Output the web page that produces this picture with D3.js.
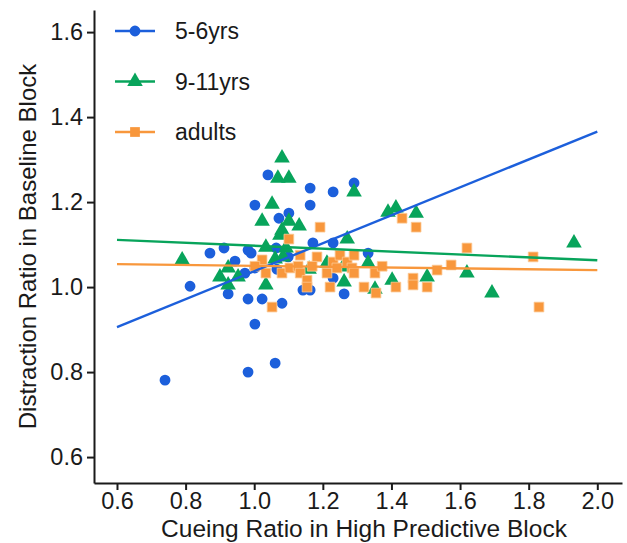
<!DOCTYPE html>
<html>
<head>
<meta charset="utf-8">
<script src="https://cdn.jsdelivr.net/npm/d3@7"></script>
<style>
  body { margin: 0; background: #fff; }
  text { font-family: "Liberation Sans", Arial, sans-serif; }
</style>
</head>
<body>
<div id="vis"></div>
<script>
// Data
const GROUPS = ["5-6yrs", "9-11yrs", "adults"];
const X_TICKS = [0.6, 0.8, 1.0, 1.2, 1.4, 1.6, 1.8, 2.0];
const Y_TICKS = [0.6, 0.8, 1.0, 1.2, 1.4, 1.6];

// 5-6yrs  [cueing ratio, distraction ratio]
const KIDS_5_6 = [
    [1.040, 1.264], [1.163, 1.233], [1.230, 1.224], [1.291, 1.245], [1.002, 1.193],
    [1.163, 1.193], [1.101, 1.174], [1.072, 1.162], [0.871, 1.080], [0.912, 1.092],
    [0.982, 1.087], [0.991, 1.080], [0.944, 1.061], [1.064, 1.092], [1.171, 1.104],
    [1.230, 1.104], [1.332, 1.080], [1.099, 1.071], [1.066, 1.042], [0.973, 1.033],
    [1.002, 1.045], [0.924, 0.984], [0.982, 0.972], [1.023, 0.972], [1.081, 0.962],
    [1.142, 0.993], [1.163, 0.993], [1.230, 1.021], [1.262, 0.984], [1.002, 0.913],
    [0.740, 0.781], [0.982, 0.800], [1.061, 0.821], [0.813, 1.002]
];

// 9-11yrs
const KIDS_9_11 = [
    [1.081, 1.304], [1.069, 1.256], [1.101, 1.256], [1.291, 1.224], [1.052, 1.195],
    [1.023, 1.155], [1.101, 1.155], [1.131, 1.144], [1.081, 1.134], [1.075, 1.122],
    [1.390, 1.176], [1.413, 1.186], [1.472, 1.174], [1.034, 1.094], [1.093, 1.092],
    [1.271, 1.113], [1.061, 1.066], [0.924, 1.045], [0.900, 1.024], [0.924, 1.005],
    [0.953, 1.024], [1.034, 1.005], [1.212, 1.056], [1.259, 1.047], [1.332, 1.056],
    [1.160, 1.042], [1.262, 1.012], [1.352, 0.995], [1.402, 1.016], [1.504, 1.024],
    [1.084, 1.071], [0.790, 1.064], [1.620, 1.033], [1.693, 0.986], [1.932, 1.104]
];

// adults
const ADULTS = [
    [1.192, 1.141], [1.101, 1.113], [1.431, 1.162], [1.472, 1.141], [1.023, 1.064],
    [1.002, 1.049], [1.034, 1.033], [1.081, 1.033], [1.104, 1.045], [1.128, 1.049],
    [1.134, 1.033], [1.154, 1.016], [1.154, 1.000], [1.183, 1.071], [1.169, 1.049],
    [1.212, 1.033], [1.230, 1.059], [1.250, 1.075], [1.241, 1.045], [1.271, 1.059],
    [1.291, 1.075], [1.285, 1.045], [1.291, 1.033], [1.352, 1.033], [1.373, 1.049],
    [1.221, 1.000], [1.320, 1.000], [1.413, 1.000], [1.463, 1.021], [1.463, 1.005],
    [1.504, 1.000], [1.533, 1.040], [1.574, 1.052], [1.620, 1.092], [1.813, 1.071],
    [1.830, 0.953], [1.052, 0.953], [1.134, 1.075], [1.355, 0.986]
];

// fitted lines, value at x = 0.6 and x = 2.0
const FIT_X = [0.6, 2.0];
const FIT_5_6 = [0.906, 1.366];
const FIT_9_11 = [1.111, 1.063];
const FIT_ADULTS = [1.054, 1.040];

// Constants
const FRAME_WIDTH = 627;
const FRAME_HEIGHT = 543;
const PLOT = { left: 94, right: 622, top: 10, bottom: 483 };
const COLORS = ["#1c5fdb", "#08a45b", "#f8973c"];
const SHAPES = [d3.symbolCircle, d3.symbolTriangle, d3.symbolSquare];
const SIZES = [92, 105, 95];

const FRAME = d3.select("#vis")
    .append("svg")
    .attr("width", FRAME_WIDTH)
    .attr("height", FRAME_HEIGHT);

const X_SCALE = d3.scaleLinear()
    .domain([0.533, 2.072])
    .range([PLOT.left, PLOT.right]);

const Y_SCALE = d3.scaleLinear()
    .domain([0.539, 1.652])
    .range([PLOT.bottom, PLOT.top]);

// axes
const xAxis = FRAME.append("g")
    .attr("transform", "translate(0," + PLOT.bottom + ")")
    .call(d3.axisBottom(X_SCALE).tickValues(X_TICKS).tickFormat(d3.format(".1f"))
        .tickSize(7).tickPadding(2).tickSizeOuter(0));
const yAxis = FRAME.append("g")
    .attr("transform", "translate(" + PLOT.left + ",0)")
    .call(d3.axisLeft(Y_SCALE).tickValues(Y_TICKS).tickFormat(d3.format(".1f"))
        .tickSize(7).tickPadding(4).tickSizeOuter(0));

[xAxis, yAxis].forEach((ax) => {
    ax.select(".domain").attr("stroke", "#1a1a1a").attr("stroke-width", 2);
    ax.selectAll(".tick line").attr("stroke", "#1a1a1a").attr("stroke-width", 2);
    ax.selectAll(".tick text")
        .attr("fill", "#1a1a1a")
        .attr("font-size", "23.5px")
        .style("font-family", "'Liberation Sans', Arial, sans-serif");
});

// axis titles
FRAME.append("text")
    .attr("x", (PLOT.left + PLOT.right) / 2 + 6)
    .attr("y", 537)
    .attr("text-anchor", "middle")
    .attr("font-size", "24.5px")
    .attr("fill", "#1a1a1a")
    .text("Cueing Ratio in High Predictive Block");

FRAME.append("text")
    .attr("transform", "translate(36," + ((PLOT.top + PLOT.bottom) / 2) + ") rotate(-90)")
    .attr("text-anchor", "middle")
    .attr("font-size", "24px")
    .attr("fill", "#1a1a1a")
    .text("Distraction Ratio in Baseline Block");

// points
const SERIES = [KIDS_5_6, KIDS_9_11, ADULTS];
SERIES.forEach((pts, i) => {
    FRAME.append("g").selectAll("path")
        .data(pts)
        .enter()
        .append("path")
        .attr("transform", (d) => "translate(" + X_SCALE(d[0]) + "," + Y_SCALE(d[1]) + ")")
        .attr("d", d3.symbol().type(SHAPES[i]).size(SIZES[i]))
        .attr("fill", COLORS[i])
        .attr("stroke", i == 2 ? "#fcc996" : "none")
        .attr("stroke-width", 0.8);
});

// regression lines
const FITS = [FIT_5_6, FIT_9_11, FIT_ADULTS];
FITS.forEach((f, i) => {
    FRAME.append("line")
        .attr("x1", X_SCALE(FIT_X[0]))
        .attr("y1", Y_SCALE(f[0]))
        .attr("x2", X_SCALE(FIT_X[1]))
        .attr("y2", Y_SCALE(f[1]))
        .attr("stroke", COLORS[i])
        .attr("stroke-width", 2.4);
});

// legend
const legend = FRAME.append("g");
GROUPS.forEach((g, i) => {
    const cy = 31 + i * 50.5;
    legend.append("line")
        .attr("x1", 115).attr("x2", 155)
        .attr("y1", cy).attr("y2", cy)
        .attr("stroke", COLORS[i])
        .attr("stroke-width", 2.4);
    legend.append("path")
        .attr("transform", "translate(135," + cy + ")")
        .attr("d", d3.symbol().type(SHAPES[i]).size(SIZES[i]))
        .attr("fill", COLORS[i]);
    legend.append("text")
        .attr("x", 175)
        .attr("y", cy + 8)
        .attr("font-size", "23px")
        .attr("fill", "#1a1a1a")
        .text(g);
});
</script>
</body>
</html>
